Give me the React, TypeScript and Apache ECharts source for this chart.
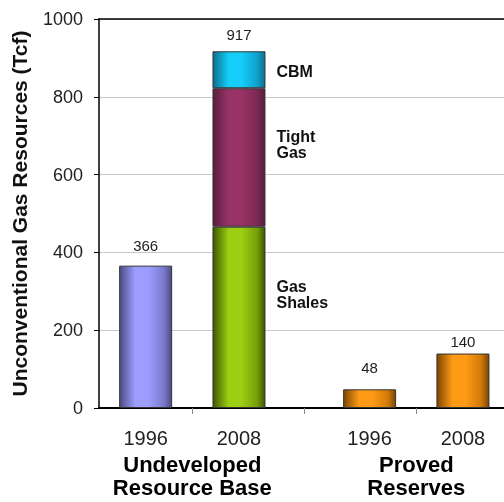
import React, { useEffect, useRef } from "react";
import * as echarts from "echarts";

// ---- data ----
const yearLabels = ["1996", "2008", "1996", "2008"];
const barPositions = [0.5, 1.5, 2.9, 3.9]; // in bar-slot units along the x axis
const groupLabels = ["Undeveloped\nResource Base", "Proved\nReserves"];
const groupPositions = [1.0, 3.4];
const groupDividers = [1.0, 2.2, 3.4];
const undeveloped1996 = [366];
const segmentNames = ["Gas Shales", "Tight Gas", "CBM"];
const segmentLabels = ["Gas\nShales", "Tight\nGas", "CBM"];
const undeveloped2008 = [466, 356, 95];
const provedReserves = [48, 140];
const yMin = 0;
const yMax = 1000;
const yInterval = 200;
const axisExtent = 4.34; // axis length in slot units
const stepsPerUnit = 50;

// label gaps above bars (style, in px): 1996 undeveloped, 2008 total, proved 1996, proved 2008
const labelGaps = [13, 9, 14, 5];

const FONT = "'Liberation Sans', Arial, sans-serif";

function grad(dark: string, light: string, mid: string) {
  return {
    type: "linear",
    x: 0,
    y: 0,
    x2: 1,
    y2: 0,
    colorStops: [
      { offset: 0, color: dark },
      { offset: 0.3, color: light },
      { offset: 0.55, color: light },
      { offset: 0.85, color: mid },
      { offset: 1, color: dark },
    ],
  };
}

const segmentColors = [
  grad("#3d5800", "#9cce12", "#789e08"),
  grad("#5a1e3e", "#993366", "#7a2952"),
  grad("#0b6f8f", "#14cdf8", "#0fa0cc"),
];

export default function App() {
  const ref = useRef<HTMLDivElement>(null);
  useEffect(() => {
    if (!ref.current) return;
    const chart = echarts.init(ref.current, null, { renderer: "svg" });

    const nSteps = Math.round(axisExtent * stepsPerUnit) + 1;
    const steps = Array.from({ length: nSteps }, (_, i) => String(i));
    const toStep = (p: number) => Math.round(p * stepsPerUnit);
    const barSteps = barPositions.map(toStep);
    const groupSteps = groupPositions.map(toStep);
    const dividerSteps = groupDividers.map(toStep);
    const seriesData = (items: [number, number, number?][]) => {
      const arr: any[] = new Array(nSteps).fill(null);
      items.forEach(([p, v, gap]) => {
        arr[toStep(p)] =
          gap == null ? v : { value: v, label: { distance: gap } };
      });
      return arr;
    };

    const total2008 = undeveloped2008.reduce((a, b) => a + b, 0);
    const numLabel = {
      show: true,
      position: "top",
      distance: 6,
      fontSize: 15,
      color: "#222",
      fontFamily: FONT,
    };
    const segOffsets = [
      [0, -23],
      [0, -13],
      [0, 2],
    ];
    const common = { type: "bar", stack: "all", barWidth: 53 };
    const series: any[] = [
      {
        ...common,
        name: "Undeveloped 1996",
        data: seriesData([[barPositions[0], undeveloped1996[0], labelGaps[0]]]),
        itemStyle: {
          color: grad("#4c4c84", "#9d9dff", "#7a7acc"),
          borderColor: "#333",
          borderWidth: 1,
        },
        label: numLabel,
      },
      ...undeveloped2008.map((v, i) => ({
        ...common,
        name: segmentNames[i],
        data: seriesData([[barPositions[1], v]]),
        itemStyle: {
          color: segmentColors[i],
          borderColor: "#333",
          borderWidth: 1,
        },
        label: {
          show: true,
          position: "right",
          distance: 11,
          offset: segOffsets[i],
          formatter: segmentLabels[i],
          fontSize: 16,
          lineHeight: 16,
          fontWeight: "bold",
          color: "#111",
          fontFamily: FONT,
        },
      })),
      {
        ...common,
        name: "Total 2008",
        data: seriesData([[barPositions[1], 0, labelGaps[1]]]),
        itemStyle: { color: "rgba(0,0,0,0)", borderWidth: 0 },
        label: { ...numLabel, formatter: String(total2008) },
      },
      {
        ...common,
        name: "Proved Reserves",
        data: seriesData(
          provedReserves.map(
            (v, i) => [barPositions[2 + i], v, labelGaps[2 + i]] as [number, number, number]
          )
        ),
        itemStyle: {
          color: grad("#7e4600", "#ff9a16", "#d07a08"),
          borderColor: "#333",
          borderWidth: 1,
        },
        label: numLabel,
      },
    ];

    chart.setOption({
      animation: false,
      textStyle: { fontFamily: FONT },
      grid: {
        left: 99,
        top: 19,
        right: 0,
        height: 389,
      },
      xAxis: [
        {
          type: "category",
          data: steps,
          boundaryGap: false,
          position: "bottom",
          axisLine: { show: true, lineStyle: { color: "#000", width: 2 } },
          axisTick: {
            show: true,
            interval: (i: number) => dividerSteps.includes(i),
            length: 6,
            lineStyle: { color: "#888" },
          },
          axisLabel: {
            interval: (i: number) => barSteps.includes(i),
            formatter: (_v: string, i: number) => yearLabels[barSteps.indexOf(i)] ?? "",
            fontSize: 20,
            margin: 20,
            color: "#222",
            fontFamily: FONT,
          },
          splitLine: { show: false },
        },
        {
          type: "category",
          data: steps,
          boundaryGap: false,
          position: "bottom",
          axisLine: { show: false },
          axisTick: { show: false },
          axisLabel: {
            interval: (i: number) => groupSteps.includes(i),
            formatter: (_v: string, i: number) => groupLabels[groupSteps.indexOf(i)] ?? "",
            fontSize: 22,
            lineHeight: 23,
            fontWeight: "bold",
            margin: 45,
            color: "#000",
            fontFamily: FONT,
          },
          splitLine: { show: false },
        },
        {
          type: "category",
          data: steps,
          boundaryGap: false,
          position: "top",
          axisLine: { show: true, lineStyle: { color: "#000", width: 1.5 } },
          axisTick: { show: false },
          axisLabel: { show: false },
          splitLine: { show: false },
        },
      ],
      yAxis: {
        type: "value",
        min: yMin,
        max: yMax,
        interval: yInterval,
        name: "Unconventional Gas Resources (Tcf)",
        nameLocation: "middle",
        nameGap: 69,
        nameTextStyle: {
          fontSize: 21,
          fontWeight: "bold",
          color: "#111",
          fontFamily: FONT,
        },
        axisLine: { show: true, lineStyle: { color: "#000", width: 1.5 } },
        axisTick: { show: true, length: 5, lineStyle: { color: "#000" } },
        axisLabel: {
          fontSize: 18,
          color: "#222",
          margin: 16,
          fontFamily: FONT,
          formatter: (v: number) => String(v),
        },
        splitLine: { show: true, lineStyle: { color: "#c8c8c8", width: 1 } },
      },
      series,
    });
    return () => chart.dispose();
  }, []);
  return (
    <div
      ref={ref}
      style={{ position: "fixed", left: 0, top: 0, width: 504, height: 502 }}
    />
  );
}
